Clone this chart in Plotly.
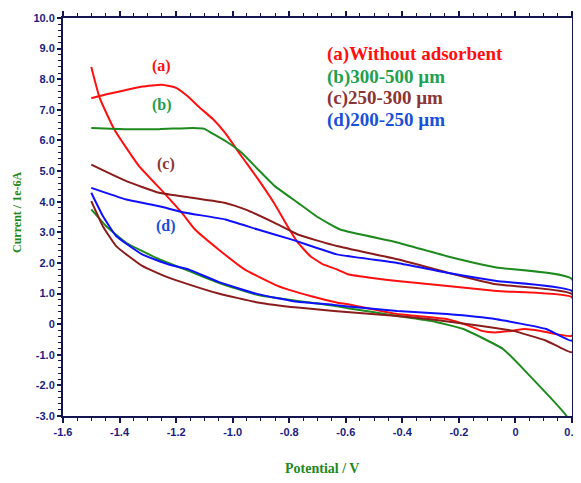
import plotly.graph_objects as go

# ---------------- data ----------------
# (a) Without adsorbent
a_up_x = [-1.5, -1.45, -1.4, -1.32, -1.25, -1.2, -1.16, -1.12, -1.07, -1.026, -0.97, -0.909, -0.85, -0.806, -0.77, -0.725, -0.68, -0.632, -0.593, -0.5, -0.418, -0.24, -0.067, 0.2]
a_up_y = [7.38, 7.5, 7.6, 7.76, 7.82, 7.72, 7.45, 7.1, 6.7, 6.24, 5.5, 4.72, 3.9, 3.2, 2.67, 2.22, 1.95, 1.79, 1.63, 1.5, 1.41, 1.25, 1.08, 0.88]
a_lo_x = [0.2, 0.09, 0.032, -0.015, -0.073, -0.119, -0.166, -0.24, -0.418, -0.593, -0.632, -0.725, -0.841, -0.958, -1.05, -1.133, -1.18, -1.243, -1.331, -1.418, -1.47, -1.5]
a_lo_y = [-0.38, -0.22, -0.16, -0.22, -0.27, -0.22, -0.05, 0.16, 0.33, 0.65, 0.71, 0.92, 1.25, 1.79, 2.44, 3.09, 3.64, 4.29, 5.16, 6.35, 7.38, 8.4]

# (b) 300-500 um
b_up_x = [-1.5, -1.376, -1.26, -1.14, -1.1, -1.074, -1.02, -0.968, -0.91, -0.85, -0.77, -0.7, -0.62, -0.418, -0.242, -0.067, 0.2]
b_up_y = [6.41, 6.37, 6.37, 6.41, 6.38, 6.24, 5.95, 5.6, 5.05, 4.5, 3.97, 3.5, 3.09, 2.67, 2.22, 1.85, 1.47]
b_lo_x = [0.2, 0.18, 0.05, -0.044, -0.184, -0.3, -0.418, -0.593, -0.642, -0.77, -0.911, -1.05, -1.156, -1.26, -1.377, -1.447, -1.5]
b_lo_y = [-3.4, -2.99, -1.68, -0.81, -0.16, 0.11, 0.27, 0.52, 0.6, 0.76, 0.95, 1.35, 1.74, 2.12, 2.66, 3.2, 3.75]

# (c) 250-300 um
c_up_x = [-1.5, -1.376, -1.26, -1.144, -1.026, -0.956, -0.85, -0.77, -0.632, -0.418, -0.242, -0.067, 0.2]
c_up_y = [5.21, 4.67, 4.29, 4.13, 3.96, 3.75, 3.3, 2.93, 2.55, 2.12, 1.69, 1.3, 0.98]
c_lo_x = [0.2, 0.109, -0.008, -0.126, -0.3, -0.418, -0.642, -0.77, -0.911, -1.05, -1.156, -1.226, -1.32, -1.412, -1.459, -1.5]
c_lo_y = [-0.92, -0.54, -0.22, -0.05, 0.16, 0.27, 0.43, 0.54, 0.71, 1.0, 1.3, 1.52, 1.9, 2.55, 3.2, 4.02]

# (d) 200-250 um
d_up_x = [-1.5, -1.376, -1.26, -1.167, -1.026, -0.911, -0.793, -0.632, -0.418, -0.242, -0.067, 0.2]
d_up_y = [4.45, 4.07, 3.85, 3.64, 3.42, 3.09, 2.77, 2.28, 2.0, 1.68, 1.41, 1.08]
d_lo_x = [0.2, 0.109, -0.067, -0.242, -0.418, -0.593, -0.642, -0.77, -0.911, -1.05, -1.156, -1.226, -1.32, -1.412, -1.459, -1.5]
d_lo_y = [-0.54, -0.16, 0.16, 0.33, 0.43, 0.58, 0.63, 0.73, 0.98, 1.38, 1.79, 1.95, 2.28, 2.88, 3.53, 4.29]

series_names = ["(a)Without adsorbent", "(b)300-500 µm", "(c)250-300 µm", "(d)200-250 µm"]
curve_labels = ["(a)", "(b)", "(c)", "(d)"]
line_colors = ["#ff1010", "#1e8a1e", "#8b1c1c", "#1010ff"]
text_colors = ["#ff1010", "#22a050", "#8b3535", "#1a50d8"]

x_ticks = [-1.6, -1.4, -1.2, -1.0, -0.8, -0.6, -0.4, -0.2, 0, 0.2]
x_tick_text = ["-1.6", "-1.4", "-1.2", "-1.0", "-0.8", "-0.6", "-0.4", "-0.2", "0", "0.2"]
y_ticks = [10, 9, 8, 7, 6, 5, 4, 3, 2, 1, 0, -1, -2, -3]
y_tick_text = ["10.0", "9.0", "8.0", "7.0", "6.0", "5.0", "4.0", "3.0", "2.0", "1.0", "0", "-1.0", "-2.0", "-3.0"]

# label positions (data coords)
label_x = [-1.25, -1.25, -1.236, -1.236]
label_y = [8.44, 7.15, 5.23, 3.21]
legend_x = -0.674
legend_y = [8.83, 8.08, 7.38, 6.66]

# ---------------- figure ----------------
fig = go.Figure()
loops = [
    (a_up_x + a_lo_x, a_up_y + a_lo_y),
    (b_up_x + b_lo_x, b_up_y + b_lo_y),
    (c_up_x + c_lo_x, c_up_y + c_lo_y),
    (d_up_x + d_lo_x, d_up_y + d_lo_y),
]
for (xs, ys), name, col in zip(loops, series_names, line_colors):
    fig.add_trace(go.Scatter(x=xs, y=ys, mode="lines", name=name,
                             line=dict(color=col, width=2, shape="spline", smoothing=0.4),
                             showlegend=False))

axis_col = "#14144e"
tick_font = dict(family="Liberation Sans, Arial", size=11, color="#1c1c80", weight="bold")

fig.update_xaxes(range=[-1.6, 0.2], tickvals=x_ticks, ticktext=x_tick_text, automargin=False,
                 ticklabeloverflow="allow",
                 showline=True, linecolor=axis_col, linewidth=2, mirror="ticks",
                 ticks="outside", ticklen=5, tickwidth=1.5, tickcolor=axis_col,
                 minor=dict(dtick=0.05, ticks="outside", ticklen=3, tickcolor=axis_col, tickwidth=1),
                 showgrid=False, zeroline=False, tickfont=tick_font)
fig.update_yaxes(range=[-3, 10], tickvals=y_ticks, ticktext=y_tick_text, automargin=False,
                 showline=True, linecolor=axis_col, linewidth=2, mirror="ticks",
                 ticks="outside", ticklen=4, tickwidth=1.5, tickcolor=axis_col,
                 minor=dict(dtick=0.2, ticks="outside", ticklen=3, tickcolor=axis_col, tickwidth=1),
                 showgrid=False, zeroline=False, tickfont=tick_font)

serif = "Liberation Serif, Times New Roman, serif"
for lx, ly, t, c in zip(label_x, label_y, curve_labels, text_colors):
    fig.add_annotation(x=lx, y=ly, text=t, showarrow=False,
                       font=dict(family=serif, size=16, color=c, weight="bold"))
for ly, t, c in zip(legend_y, series_names, text_colors):
    fig.add_annotation(x=legend_x, y=ly, text=t, showarrow=False, xanchor="left", yanchor="middle",
                       font=dict(family=serif, size=19, color=c, weight="bold"))

fig.add_annotation(xref="paper", yref="paper", x=0.509, y=-0.131, text="Potential / V",
                   showarrow=False, xanchor="center", yanchor="middle",
                   font=dict(family=serif, size=14, color="#1e8a1e", weight="bold"))
fig.add_annotation(xref="paper", yref="paper", x=-0.0904, y=0.5126, text="Current / 1e-6A",
                   showarrow=False, textangle=-90, xanchor="center", yanchor="middle",
                   font=dict(family=serif, size=12, color="#1e8a1e", weight="bold"))

fig.update_layout(width=565, height=467, margin=dict(l=55, r=1, t=10, b=59),
                  plot_bgcolor="white", paper_bgcolor="white")
fig.write_html("out.html")
